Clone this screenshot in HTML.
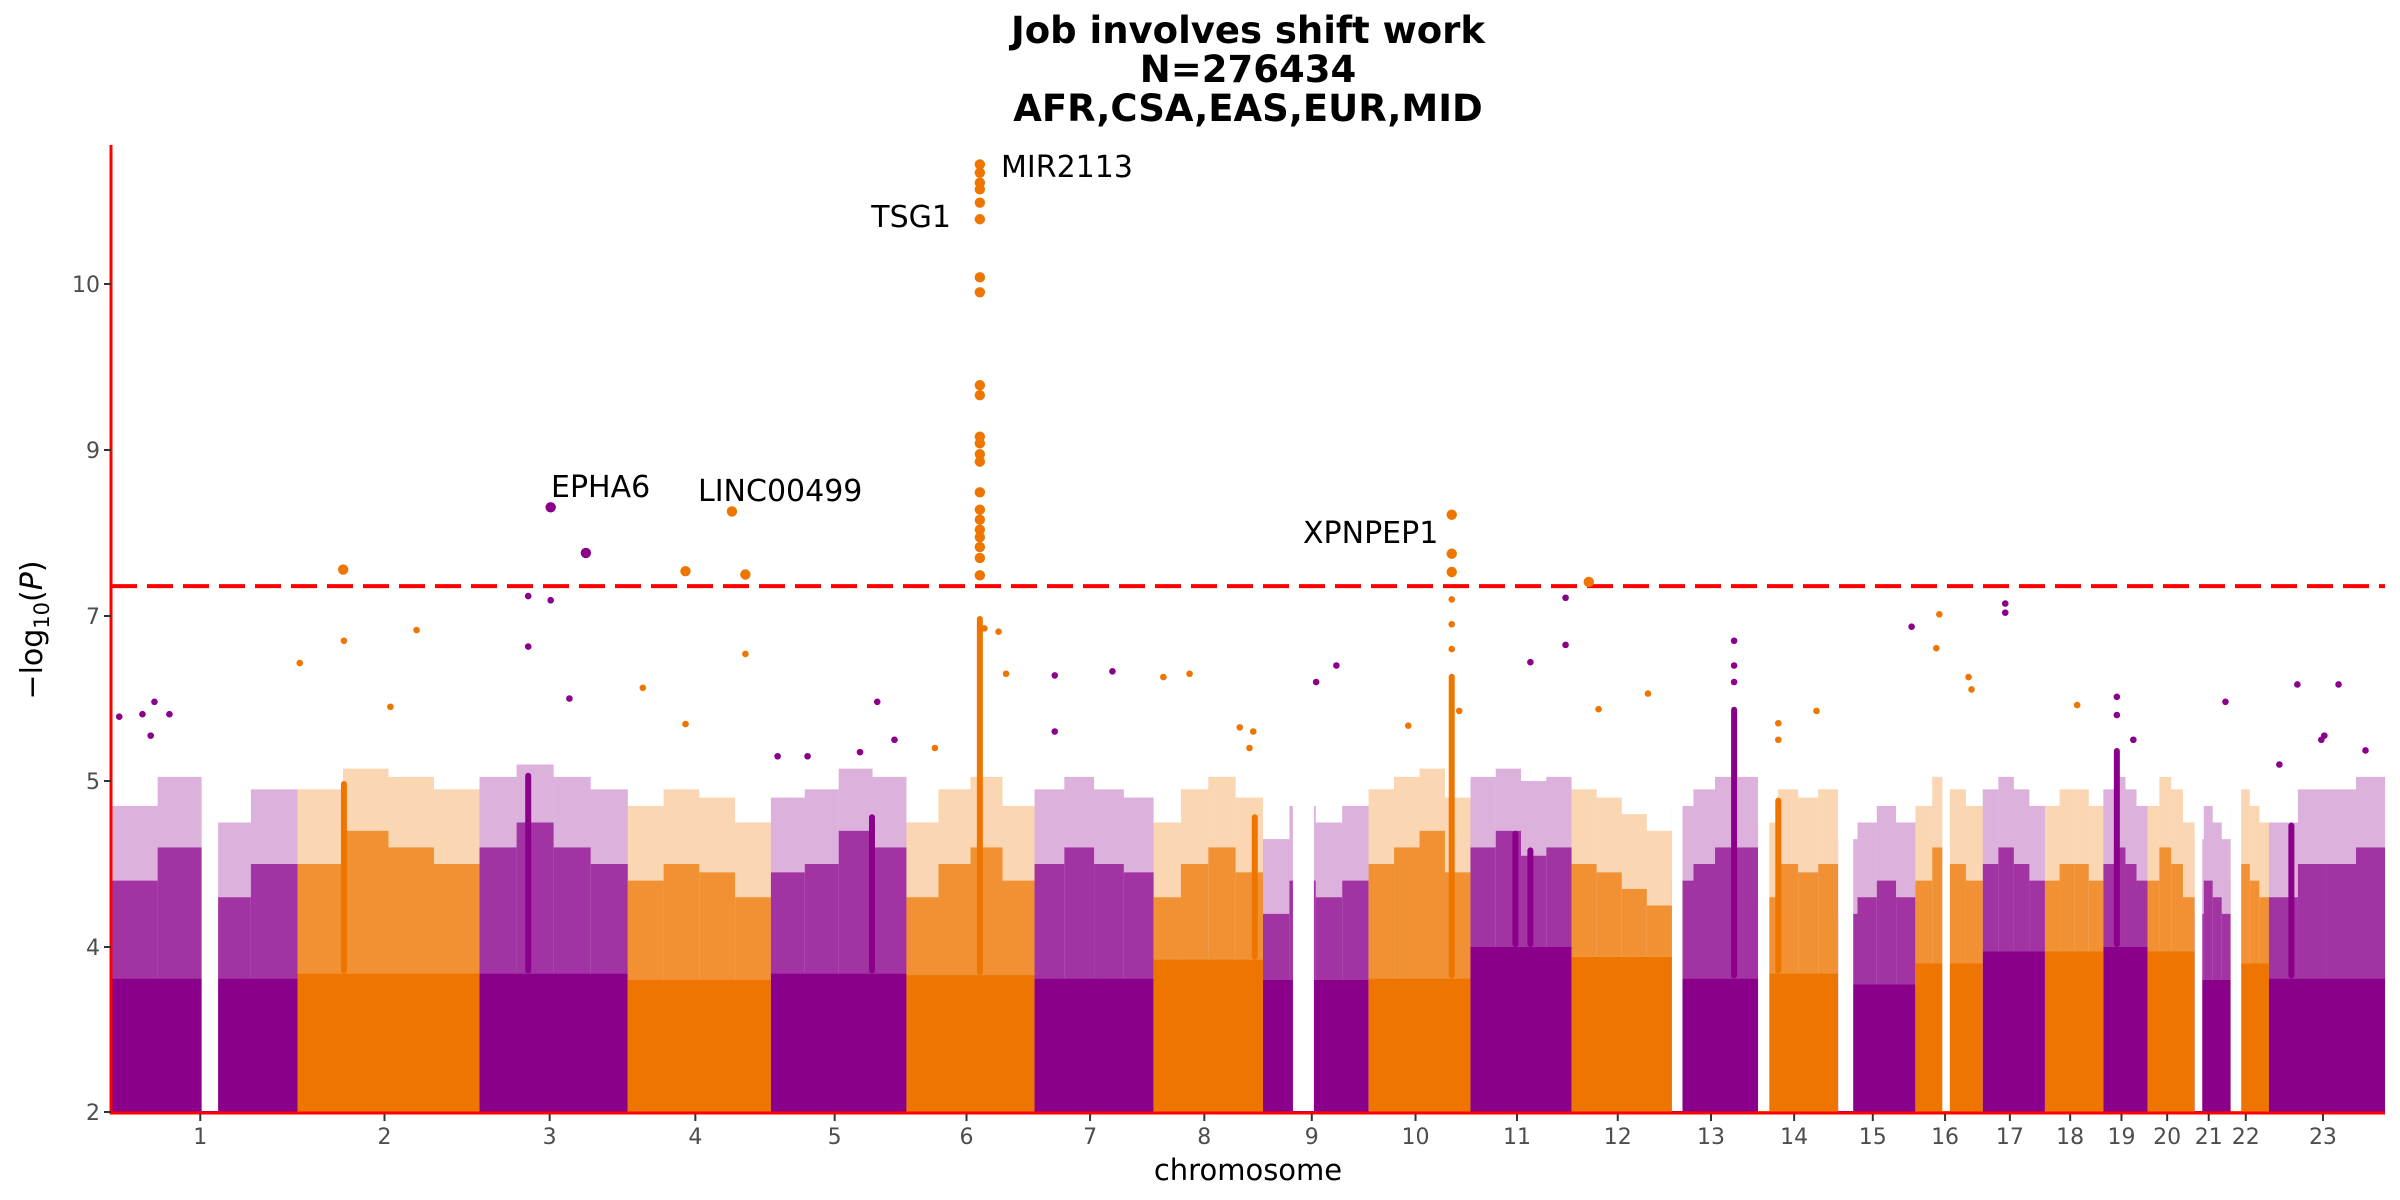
<!DOCTYPE html>
<html><head><meta charset="utf-8">
<style>
html,body{margin:0;padding:0;background:#fff;}
svg{display:block;font-family:"DejaVu Sans","Liberation Sans",sans-serif;}
</style></head>
<body>
<svg id="chart" width="2400" height="1200" viewBox="0 0 2400 1200" xmlns="http://www.w3.org/2000/svg">
  <g font-weight="bold" font-size="37" text-anchor="middle" fill="#000">
    <text x="1248" y="43">Job involves shift work</text>
    <text x="1248" y="82">N=276434</text>
    <text x="1248" y="121">AFR,CSA,EAS,EUR,MID</text>
  </g>
  <g id="bodies"></g>
  <g id="gaps"></g>
  <line id="thr" x1="111" x2="2385" stroke="#ff0000" stroke-width="4" stroke-dasharray="26,10"></line>
  <g id="points"></g>
  <g id="axes"></g>
  <g font-size="30" fill="#000">
    <text x="1001" y="177">MIR2113</text>
    <text x="951" y="227" text-anchor="end">TSG1</text>
    <text x="551" y="497">EPHA6</text>
    <text x="698" y="501">LINC00499</text>
    <text x="1303" y="543">XPNPEP1</text>
  </g>
  <text x="1248" y="1180" font-size="29" text-anchor="middle" fill="#000">chromosome</text>
  <text transform="translate(42,630) rotate(-90)" font-size="30" text-anchor="middle" fill="#000">−log<tspan font-size="21" dy="7">10</tspan><tspan dy="-7">(</tspan><tspan font-style="italic">P</tspan>)</text>
</svg>
<script>
// ---- data ----
const chrLabels = ["1","2","3","4","5","6","7","8","9","10","11","12","13","14","15","16","17","18","19","20","21","22","23"];
const chrLengths = [249,243,198,191,181,171,159,146,141,136,135,134,115,107,103,90,83,78,59,63,48,51,155];
const bodyTop = [3.62,3.68,3.68,3.6,3.68,3.66,3.62,3.85,3.6,3.62,4.0,3.88,3.62,3.68,3.55,3.8,3.95,3.95,4.0,3.95,3.6,3.8,3.62];
const fringeTop = [
 [4.4,4.6,4.3,4.5],[4.5,4.7,4.6,4.5],[4.6,4.75,4.6,4.5],[4.4,4.5,4.45,4.3],[4.45,4.5,4.7,4.6],
 [4.3,4.5,4.6,4.4],[4.5,4.6,4.5,4.45],[4.3,4.5,4.6,4.45],[4.2,4.4,4.3,4.4],[4.5,4.6,4.7,4.45],
 [4.6,4.7,4.55,4.6],[4.5,4.45,4.35,4.25],[4.4,4.5,4.6,4.6],[4.3,4.5,4.45,4.5],[4.2,4.3,4.4,4.3],
 [4.4,4.6,4.5,4.4],[4.5,4.6,4.5,4.4],[4.4,4.5,4.5,4.4],[4.5,4.6,4.5,4.4],[4.4,4.6,4.5,4.3],
 [4.2,4.4,4.3,4.2],[4.4,4.5,4.4,4.3],[4.3,4.5,4.5,4.6]];
// gaps in cumulative Mb [start, end]
const gapStart = [121,1578,2084,2199,2306,2445,2782,2830,2092];
const gapEnd   = [143,1606,2098,2214,2326,2455,2792,2844,2098];
// dense vertical streaks: cumulative Mb position and top value
const spikePos = [311,557,1016,1160,1527,1790,1875,1895,2167,2678,2911,2226];
const spikeTop = [5.0,5.1,4.8,7.0,4.8,6.3,4.7,4.6,5.9,5.4,4.75,4.9];
// individual points: cumulative Mb and -log10(P)
const ptPos = [1160,1160,1160,1160,1160,1160,1160,1160,1160,1160,1160,1160,1160,1160,1160,1160,1160,1160,1160,1160,1160,1160,
 587,634,310,767,829,847,1790,1790,1790,1790,1790,1790,1973,1942,557,587,2441,2529,2529,2404,1166,1185,1195,408,311,557,
 1440,1405,1260,1337,1636,2437,2480,2484,1895,1942,2919,2167,847,252,58,11,42,78,53,373,710,767,612,1023,1800,1732,1986,2052,
 2277,2625,2823,2678,2974,3010,2955,2951,1609,1507,2167,2167,2678,2226,2226,1520,1525,930,1000,1046,1100,890,1260,2700,2895];
const ptVal = [10.72,10.67,10.61,10.57,10.49,10.39,10.04,9.95,9.39,9.33,9.08,9.04,8.95,8.86,8.49,8.28,8.16,8.04,7.95,7.83,7.7,7.49,
 8.31,7.76,7.56,7.54,8.26,7.5,8.22,7.75,7.53,7.2,6.9,6.6,7.41,7.22,7.24,7.19,7.02,7.15,7.04,6.87,6.85,6.81,6.3,6.83,6.7,6.63,
 6.3,6.26,6.28,6.33,6.4,6.61,6.26,6.11,6.44,6.65,6.17,6.7,6.54,6.43,5.96,5.78,5.81,5.81,5.55,5.9,6.13,5.69,6.0,5.96,5.85,5.67,5.87,6.06,
 5.85,5.92,5.96,6.02,6.17,5.37,5.55,5.5,6.2,5.65,6.4,6.2,5.8,5.5,5.7,5.4,5.6,5.3,5.35,5.5,5.4,5.3,5.6,5.5,5.2];
const yTicks = [2,4,5,7,9,10];
const threshold = 7.3;

// ---- scales ----
const xL = 111, xR = 2385;
const total = chrLengths.reduce((a,b)=>a+b,0);
function xs(mb){ return xL + mb/total*(xR-xL); }
const tickPx = [1112,947,781,616,450,284];
function ys(v){
  if (v<=yTicks[0]) return tickPx[0];
  for (let i=0;i<yTicks.length-1;i++){
    if (v<=yTicks[i+1]) return tickPx[i] + (v-yTicks[i])/(yTicks[i+1]-yTicks[i])*(tickPx[i+1]-tickPx[i]);
  }
  const n=yTicks.length-1;
  return tickPx[n] + (v-yTicks[n])*(tickPx[n]-tickPx[n-1])/(yTicks[n]-yTicks[n-1]);
}
const PURPLE="#8B008B", ORANGE="#EE7600";
const NS="http://www.w3.org/2000/svg";
const starts=[]; {let c=0; for(const L of chrLengths){starts.push(c); c+=L;}}
function chrOf(mb){ for(let i=chrLengths.length-1;i>=0;i--) if(mb>=starts[i]) return i; return 0; }
function col(i){ return i%2===0?PURPLE:ORANGE; }
function mk(tag, attrs, parent){ const e=document.createElementNS(NS,tag); for(const k in attrs) e.setAttribute(k,attrs[k]); parent.appendChild(e); return e; }

const bodies=document.getElementById('bodies');
chrLengths.forEach((L,i)=>{
  const x0=xs(starts[i]), x1=xs(starts[i]+L);
  const r=mk('rect',{x:x0,y:ys(bodyTop[i]),width:x1-x0,height:ys(2)-ys(bodyTop[i]),fill:col(i)},bodies);
  
  
  const bins=fringeTop[i], bw=(x1-x0)/bins.length;
  bins.forEach((t,j)=>{
    const f=mk('rect',{x:x0+j*bw,y:ys(t),width:bw,height:ys(bodyTop[i])-ys(t),fill:col(i),opacity:0.8},bodies);
    
    
    const f2=mk('rect',{x:x0+j*bw,y:ys(t+0.45),width:bw,height:ys(t)-ys(t+0.45),fill:col(i),opacity:0.3},bodies);
    
    
  });
});
spikePos.forEach((p,k)=>{
  const i=chrOf(p);
  const s=mk('rect',{x:xs(p)-3,y:ys(spikeTop[k]),width:6,height:ys(bodyTop[i])-ys(spikeTop[k]),fill:col(i),rx:3},bodies);
  
  
});
const gaps=document.getElementById('gaps');
gapStart.forEach((g,k)=>{
  const r=mk('rect',{x:xs(g),y:ys(8),width:xs(gapEnd[k])-xs(g),height:ys(2)-ys(8)-1,fill:"#fff"},gaps);
  
  
});
const thr=document.getElementById('thr');
thr.setAttribute('y1',ys(threshold)-5); thr.setAttribute('y2',ys(threshold)-5);

const pts=document.getElementById('points');
ptPos.forEach((p,k)=>{
  const v=ptVal[k], i=chrOf(p);
  const c=mk('circle',{cx:xs(p),cy:ys(v),r:v>=threshold?5.2:3.3,fill:col(i)},pts);
  
  
});

const axes=document.getElementById('axes');
const ya=mk('line',{x1:xL,x2:xL,y1:145,y2:1114,stroke:"#ff0000","stroke-width":3},axes);


const xa=mk('line',{x1:xL-1,x2:xR,y1:1113,y2:1113,stroke:"#ff0000","stroke-width":3},axes);


yTicks.forEach(t=>{
  const y=ys(t);
  const tm=mk('line',{x1:xL-7,x2:xL,y1:y,y2:y,stroke:"#333","stroke-width":2},axes);
  
  
  const tl=mk('text',{x:xL-11,y:y+8,"font-size":22,"text-anchor":"end",fill:"#4d4d4d"},axes);
  tl.textContent=String(t);
  
  
});
chrLabels.forEach((lab,i)=>{
  const x=xs(starts[i]+chrLengths[i]/2)-4;
  const tm=mk('line',{x1:x,x2:x,y1:1114,y2:1121,stroke:"#333","stroke-width":2},axes);
  
  
  const tl=mk('text',{x:x,y:1144,"font-size":22,"text-anchor":"middle",fill:"#4d4d4d"},axes);
  tl.textContent=lab;
  
  
});
</script>
</body></html>
